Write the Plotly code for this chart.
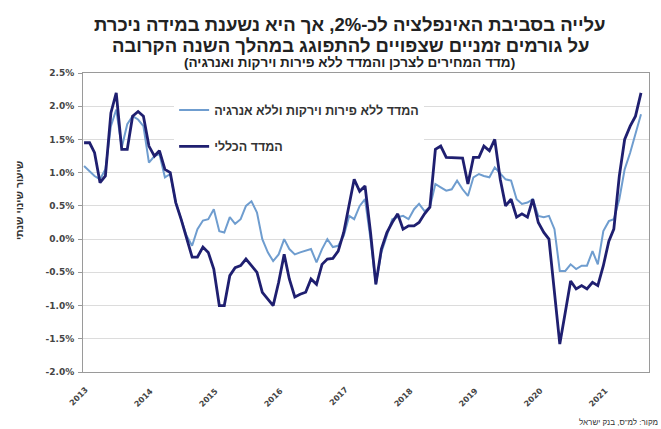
import pandas as pd
import plotly.graph_objects as go

months = [d.strftime("%Y-%m-%d") for d in pd.date_range("2013-01-01", "2021-08-01", freq="MS")]

cpi_total = [
    1.45, 1.45, 1.30, 0.85, 0.95, 1.90, 2.20, 1.35, 1.35, 1.85, 1.92, 1.85,
    1.40, 1.25, 1.33, 1.05, 1.00, 0.55, 0.30, 0.00, -0.27, -0.27, -0.12, -0.20,
    -0.45, -1.00, -1.00, -0.55, -0.43, -0.40, -0.30, -0.40, -0.50, -0.80, -0.90, -1.00,
    -0.65, -0.23, -0.60, -0.87, -0.83, -0.80, -0.60, -0.68, -0.38, -0.30, -0.29, -0.18,
    0.10, 0.50, 0.90, 0.72, 0.80, 0.10, -0.68, -0.15, 0.10, 0.25, 0.38, 0.15,
    0.20, 0.20, 0.25, 0.38, 0.48, 1.35, 1.40, 1.23, 1.23, 1.23, 1.22, 0.83,
    1.23, 1.23, 1.40, 1.33, 1.50, 0.90, 0.50, 0.60, 0.33, 0.38, 0.33, 0.60,
    0.25, 0.10, 0.00, -0.80, -1.58, -1.10, -0.63, -0.75, -0.70, -0.75, -0.65, -0.70,
    -0.40, -0.03, 0.15, 0.95, 1.50, 1.70, 1.85, 2.20,
]

cpi_core = [
    1.10, 1.02, 0.95, 0.90, 1.05, 1.70, 1.95, 1.38, 1.73, 1.85, 1.80, 1.70,
    1.15, 1.25, 1.28, 0.93, 0.98, 0.55, 0.30, 0.05, -0.10, 0.15, 0.28, 0.30,
    0.45, 0.12, 0.10, 0.33, 0.23, 0.30, 0.50, 0.57, 0.40, 0.00, -0.20, -0.33,
    -0.23, 0.00, -0.15, -0.23, -0.20, -0.18, -0.15, -0.35, -0.15, 0.00, -0.12, -0.10,
    0.05, 0.35, 0.30, 0.50, 0.60, 0.00, -0.68, -0.20, 0.05, 0.30, 0.33, 0.35,
    0.30, 0.45, 0.53, 0.42, 0.48, 0.83, 0.78, 0.73, 0.75, 0.88, 0.75, 0.65,
    0.93, 0.98, 0.95, 0.93, 1.08, 0.98, 0.90, 0.88, 0.60, 0.53, 0.55, 0.60,
    0.35, 0.33, 0.35, 0.15, -0.48, -0.48, -0.38, -0.45, -0.40, -0.40, -0.18, -0.38,
    0.12, 0.27, 0.30, 0.60, 1.05, 1.30, 1.60, 1.88,
]

year_labels = ["2013", "2014", "2015", "2016", "2017", "2018", "2019", "2020", "2021"]
tick_positions = [f"{y}-01-01" for y in year_labels]

y_ticks = [-2.0, -1.5, -1.0, -0.5, 0.0, 0.5, 1.0, 1.5, 2.0, 2.5]

series_core_name = "המדד ללא פירות וירקות וללא אנרגיה"
series_total_name = "המדד הכללי"

HEB = "Liberation Sans, Arial, DejaVu Sans, sans-serif"
NUM = "DejaVu Sans, Verdana, sans-serif"

fig = go.Figure()
fig.add_trace(go.Scatter(
    x=months, y=cpi_core, mode="lines", name=series_core_name,
    line=dict(color="#6f9dcf", width=2), legendgroup="a",
))
fig.add_trace(go.Scatter(
    x=months, y=cpi_total, mode="lines", name=series_total_name,
    line=dict(color="#1f1f70", width=2.8), legendgroup="b",
))

fig.update_layout(
    width=661, height=429,
    margin=dict(l=83, r=12, t=73, b=57),
    paper_bgcolor="white", plot_bgcolor="white",
    font=dict(family=HEB, color="#333333"),
    showlegend=True,
    legend=dict(
        x=0.161, y=0.925, xanchor="left", yanchor="top",
        bgcolor="white", font=dict(size=12.5, color="#333333", family=HEB, weight="bold"),
        tracegroupgap=17, traceorder="grouped",
    ),
)

fig.update_xaxes(
    type="date",
    range=["2012-12-26", "2021-09-15"],
    tickmode="array", tickvals=tick_positions, ticktext=year_labels,
    showticklabels=False,
    showgrid=False, showline=True, linecolor="#9a9a9a", linewidth=1, mirror=True,
    ticks="", zeroline=False,
)
fig.update_yaxes(
    range=[-2.0, 2.5],
    tickmode="array", tickvals=y_ticks, ticktext=[f"{v:.1f}%" for v in y_ticks],
    tickfont=dict(size=9, color="#444444", family=NUM, weight="bold"),
    showgrid=True, gridcolor="#dcdcdc", gridwidth=1,
    showline=True, linecolor="#9a9a9a", linewidth=1, mirror=True,
    ticks="outside", ticklen=4, tickcolor="#9a9a9a", ticklabelstandoff=2,
    zeroline=False,
)

# rotated year labels placed on the x axis scale
for pos, lab in zip(tick_positions, year_labels):
    fig.add_annotation(
        text=f"<b>{lab}</b>", x=pos, xref="x", y=0, yref="paper",
        xanchor="center", yanchor="top", xshift=-5, yshift=-11,
        textangle=-45, showarrow=False,
        font=dict(size=8, color="#444444", family=NUM),
    )

fig.add_annotation(
    text="<b>עלייה בסביבת האינפלציה לכ-2%, אך היא נשענת במידה ניכרת</b>",
    xref="paper", yref="paper", x=0.472, y=1.163, xanchor="center", yanchor="middle",
    showarrow=False, font=dict(size=18.5, color="#222222", family=HEB),
)
fig.add_annotation(
    text="<b>על גורמים זמניים שצפויים להתפוגג במהלך השנה הקרובה</b>",
    xref="paper", yref="paper", x=0.472, y=1.092, xanchor="center", yanchor="middle",
    showarrow=False, font=dict(size=18.5, color="#222222", family=HEB),
)
fig.add_annotation(
    text="<b>(מדד המחירים לצרכן והמדד ללא פירות וירקות ואנרגיה)</b>",
    xref="paper", yref="paper", x=0.47, y=1.035, xanchor="center", yanchor="middle",
    showarrow=False, font=dict(size=13.5, color="#222222", family=HEB),
)
fig.add_annotation(
    text="<b>שיעור שינוי שנתי</b>",
    xref="paper", yref="paper", x=-0.113, y=0.575, xanchor="center", yanchor="middle",
    textangle=-90, showarrow=False, font=dict(size=10.5, color="#333333", family=HEB),
)
fig.add_annotation(
    text="מקור: למ\"ס, בנק ישראל",
    xref="paper", yref="paper", x=1.019, y=-0.17, xanchor="right", yanchor="middle",
    showarrow=False, font=dict(size=8, color="#333333", family=HEB),
)

fig.write_html("out.html")
